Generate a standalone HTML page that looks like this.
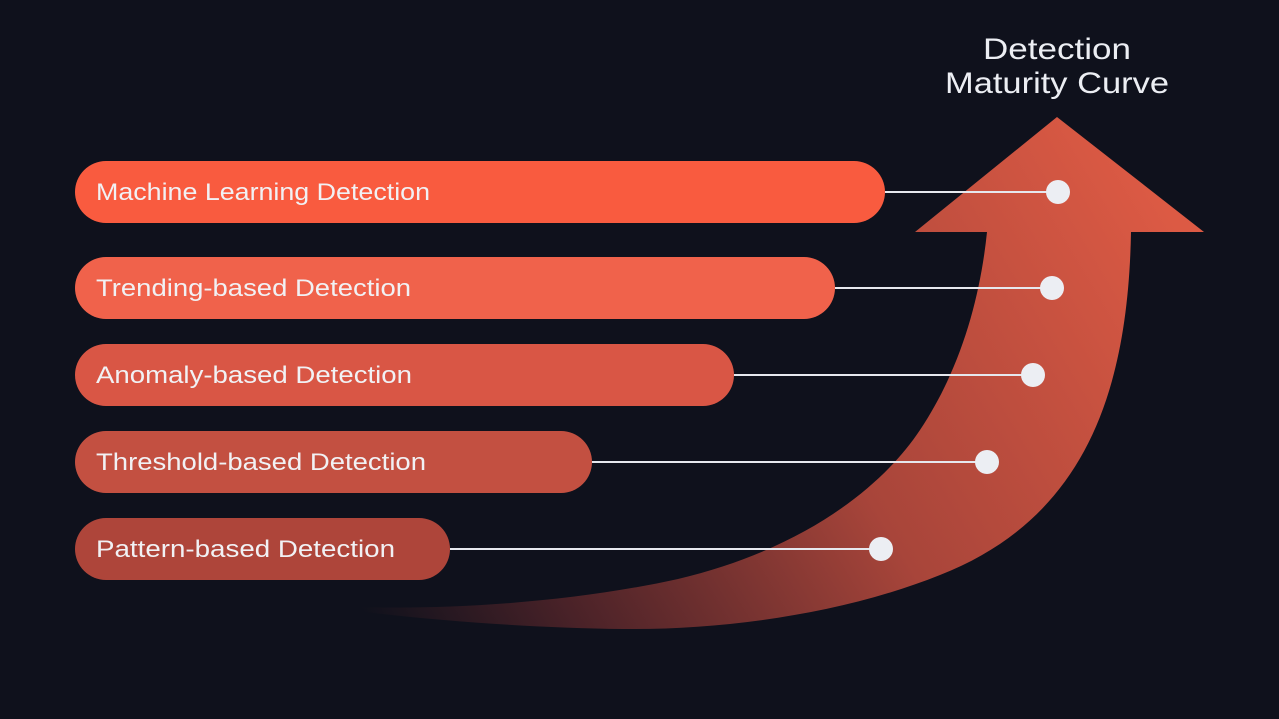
<!DOCTYPE html>
<html><head><meta charset="utf-8"><style>
html,body{margin:0;padding:0;background:#0f111c;}
svg{display:block;font-family:"Liberation Sans",sans-serif;}
</style></head><body>
<svg width="1279" height="719" viewBox="0 0 1279 719">
<defs>
<linearGradient id="ag" x1="1150" y1="180" x2="380" y2="640" gradientUnits="userSpaceOnUse">
<stop offset="0" stop-color="#dc5a44"/>
<stop offset="0.45" stop-color="#a8453a"/>
<stop offset="0.8" stop-color="#4a2228"/>
<stop offset="1" stop-color="#0f111c"/>
</linearGradient>
</defs>
<rect width="1279" height="719" fill="#0f111c"/>
<text x="1057" y="59" text-anchor="middle" font-size="30" fill="#eceef3" textLength="148" lengthAdjust="spacingAndGlyphs">Detection</text>
<text x="1057" y="93" text-anchor="middle" font-size="30" fill="#eceef3" textLength="224" lengthAdjust="spacingAndGlyphs">Maturity Curve</text>
<path fill="url(#ag)"
d="M1057,117 L1204,232 L1131,232 C1128,400 1080,520 940,575 C840,615 720,630 623,629 C520,628 400,618 312,605 C420,612 560,605 678,579 C800,550 880,490 920,430 C960,370 980,300 987,232 L915,232 Z"/>
<g id="stages"></g>
</svg>
<script>
const labels=["Machine Learning Detection","Trending-based Detection","Anomaly-based Detection","Threshold-based Detection","Pattern-based Detection"];
const barEnds=[885,835,734,592,450];
const dotX=[1058,1052,1033,987,881];
const rowY=[192,288,375,462,549];
const colors=["#f95b3f","#f0624b","#d95645","#c35041","#ae453a"];
const textW=[334,315,316,330,299];
const NS="http://www.w3.org/2000/svg";
const g=document.getElementById("stages");
labels.forEach((lab,i)=>{
  const y=rowY[i];
  const r=document.createElementNS(NS,"rect");
  
  
  r.setAttribute("x",75);r.setAttribute("y",y-31);r.setAttribute("width",barEnds[i]-75);r.setAttribute("height",62);r.setAttribute("rx",31);r.setAttribute("fill",colors[i]);
  g.appendChild(r);
  const t=document.createElementNS(NS,"text");
  
  
  t.setAttribute("x",96);t.setAttribute("y",y+8);t.setAttribute("font-size",24);t.setAttribute("fill","#f1f1f4");t.setAttribute("textLength",textW[i]);t.setAttribute("lengthAdjust","spacingAndGlyphs");
  t.textContent=lab;g.appendChild(t);
  const l=document.createElementNS(NS,"line");
  
  
  l.setAttribute("x1",barEnds[i]);l.setAttribute("y1",y);l.setAttribute("x2",dotX[i]);l.setAttribute("y2",y);l.setAttribute("stroke","#e6e8ee");l.setAttribute("stroke-width",2);
  g.appendChild(l);
  const c=document.createElementNS(NS,"circle");
  
  
  c.setAttribute("cx",dotX[i]);c.setAttribute("cy",y);c.setAttribute("r",12);c.setAttribute("fill","#eceef3");
  g.appendChild(c);
});
</script>
</body></html>
